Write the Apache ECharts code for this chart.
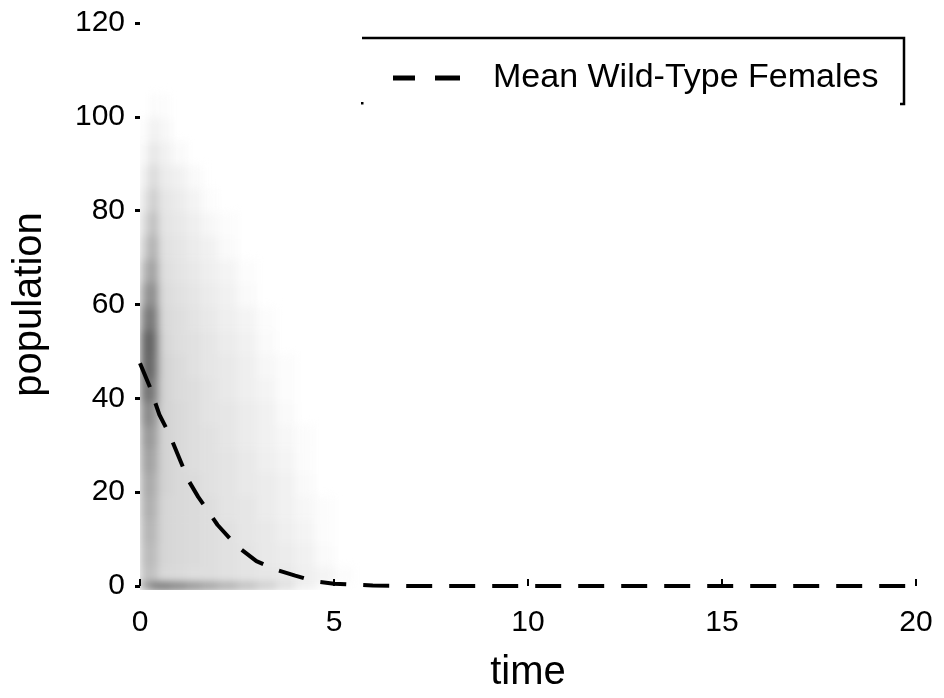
<!DOCTYPE html>
<html><head><meta charset="utf-8">
<script src="https://cdn.jsdelivr.net/npm/echarts@6/dist/echarts.min.js"></script>
<style>
html,body{margin:0;padding:0;background:#fff;}
#wrap{position:relative;width:944px;height:698px;background:#fff;}
#heat,#main{position:absolute;left:0;top:0;width:944px;height:698px;}
#heat{filter:blur(4px);clip-path:inset(23px 28px 108px 140px);}
</style></head><body>
<div id="wrap"><div id="heat"></div><div id="main"></div></div>
<script>
// ---- data ----
const xTickLabels = [0, 5, 10, 15, 20];
const yTickLabels = [0, 20, 40, 60, 80, 100, 120];
const seriesName = 'Mean Wild-Type Females';
const meanTime = [0, 0.25, 0.5, 0.75, 1, 1.25, 1.5, 1.75, 2, 2.5, 3, 3.5, 4, 4.5, 5, 5.5, 6, 7, 8, 9, 10, 11, 12, 13, 14, 15, 16, 17, 18, 19, 20];
const meanPop  = [47.5, 42.5, 36.5, 32.5, 27.5, 22.5, 19, 16, 13, 8.5, 5.3, 3.5, 2.2, 1.0, 0.5, 0.3, 0.1, 0, 0, 0, 0, 0, 0, 0, 0, 0, 0, 0, 0, 0, 0];
// density of simulated trajectories (darkness %), bins of time x population
const timeEdges = [0, 0.25, 0.45, 0.8, 1.2, 1.6, 2.0, 2.5, 3.0, 3.5, 4.0, 4.5, 5.0, 5.5];
const popEdges = [0, 1.5, 5, 10, 15, 20, 25, 30, 35, 40, 45, 50, 55, 60, 65, 70, 75, 80, 85, 90, 95, 100, 105];
const density = [
 [40,62,66,60,52,45,38,30,22,13,6,2,0],
 [22,23,14,13,12,12,11,10,9,8,6,4,1],
 [24,25,15,14,13,12,11,10,8,7,5,2,0],
 [26,27,15,14,13,12,11,9,8,6,4,1,0],
 [28,29,15,14,13,12,10,9,7,5,3,1,0],
 [30,31,16,14,13,11,10,8,7,5,2,0,0],
 [33,34,16,14,12,11,10,8,6,4,1,0,0],
 [36,37,16,14,12,11,9,7,5,3,1,0,0],
 [42,42,16,14,12,10,9,7,5,2,0,0,0],
 [50,50,16,13,12,10,8,6,4,1,0,0,0],
 [55,55,16,13,11,9,8,6,3,1,0,0,0],
 [55,57,15,12,11,9,7,5,2,0,0,0,0],
 [45,52,14,12,10,8,6,4,1,0,0,0,0],
 [35,45,13,11,9,7,5,2,0,0,0,0,0],
 [26,38,12,10,8,6,4,1,0,0,0,0,0],
 [18,32,11,9,7,5,2,0,0,0,0,0,0],
 [13,26,10,8,6,3,1,0,0,0,0,0,0],
 [9,20,9,7,4,1,0,0,0,0,0,0,0],
 [6,15,7,5,2,0,0,0,0,0,0,0,0],
 [3,10,5,2,0,0,0,0,0,0,0,0,0],
 [1,6,3,0,0,0,0,0,0,0,0,0,0],
 [0,2,1,0,0,0,0,0,0,0,0,0,0]
];

// ---- build ----
const FONT = 'Liberation Sans, Arial, sans-serif';
const gridCfg = {left: 140, right: 28, top: 23, bottom: 108};
const xMin = xTickLabels[0], xMax = xTickLabels[xTickLabels.length - 1];
const yMin = yTickLabels[0], yMax = yTickLabels[yTickLabels.length - 1];

const cells = [];
density.forEach((row, r) => {
  row.forEach((v, c) => {
    if (v > 0) cells.push([timeEdges[c], timeEdges[c + 1], popEdges[r], popEdges[r + 1], v]);
  });
});

const heat = echarts.init(document.getElementById('heat'), null, {renderer: 'canvas'});
heat.setOption({
  animation: false,
  backgroundColor: 'transparent',
  grid: gridCfg,
  xAxis: {type: 'value', min: xMin, max: xMax, show: false},
  yAxis: {type: 'value', min: yMin, max: yMax, show: false},
  series: [{
    type: 'custom',
    data: cells,
    encode: {x: [0, 1], y: [2, 3]},
    clip: true,
    renderItem: function (params, api) {
      const a = api.coord([api.value(0), api.value(3)]);
      const b = api.coord([api.value(1), api.value(2)]);
      const g = Math.round(255 - 2.75 * api.value(4));
      return {
        type: 'rect',
        shape: {x: a[0], y: a[1], width: b[0] - a[0] + 0.6, height: b[1] - a[1] + 0.6},
        style: {fill: 'rgb(' + g + ',' + g + ',' + g + ')'}
      };
    }
  }]
});

const chart = echarts.init(document.getElementById('main'), null, {renderer: 'canvas'});
chart.setOption({
  animation: false,
  backgroundColor: 'transparent',
  textStyle: {fontFamily: FONT, color: '#000'},
  grid: gridCfg,
  legend: {
    data: [{name: seriesName, icon: 'path://M0 0H22V5H0Z M42 0H67V5H42Z'}],
    left: 393, top: 61, padding: 0,
    itemWidth: 67, itemHeight: 5,
    itemStyle: {color: '#000', borderWidth: 0},
    textStyle: {fontSize: 34, color: '#000', fontFamily: FONT, padding: [0, 0, 0, 28]}
  },
  graphic: [
    {type: 'polyline', shape: {points: [[362, 38], [904, 38], [904, 104], [900, 104]]}, style: {stroke: '#000', lineWidth: 2.5, fill: null}},
    {type: 'rect', shape: {x: 361, y: 102, width: 2.5, height: 2.5}, style: {fill: '#000'}}
  ],
  xAxis: {
    type: 'value', min: xMin, max: xMax, interval: 5,
    name: 'time', nameLocation: 'middle', nameGap: 67,
    nameTextStyle: {fontSize: 40, color: '#000', fontFamily: FONT},
    axisLine: {show: false},
    axisTick: {show: true, inside: true, length: 7, lineStyle: {color: '#000', width: 2}},
    axisLabel: {fontSize: 30, color: '#000', margin: 22, fontFamily: FONT},
    splitLine: {show: false}
  },
  yAxis: {
    type: 'value', min: yMin, max: yMax, interval: 20,
    name: 'population', nameLocation: 'middle', nameGap: 90, nameRotate: 90,
    nameTextStyle: {fontSize: 40, color: '#000', fontFamily: FONT},
    axisLine: {show: false},
    axisTick: {show: true, inside: false, length: 5, lineStyle: {color: '#000', width: 3}},
    axisLabel: {fontSize: 30, color: '#000', margin: 15, fontFamily: FONT},
    splitLine: {show: false}
  },
  series: [{
    name: seriesName,
    type: 'line',
    data: meanTime.map((t, i) => [t, meanPop[i]]),
    symbol: 'none',
    smooth: false,
    lineStyle: {color: '#000', width: 4, type: [26, 17]},
    itemStyle: {color: '#000'}
  }]
});
</script>
</body></html>
